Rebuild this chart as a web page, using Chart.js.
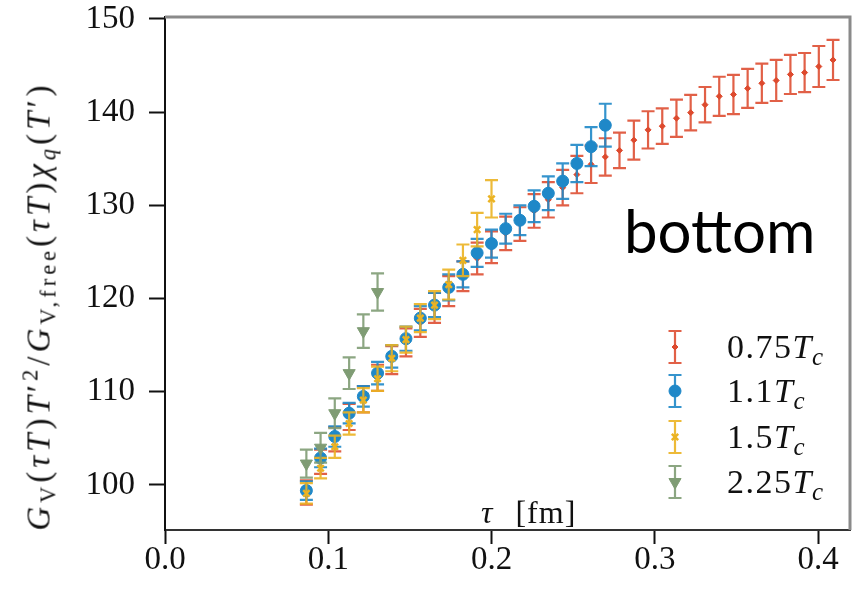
<!DOCTYPE html>
<html lang="en">
<head>
  <meta charset="UTF-8" />
  <title>G_V ratio vs tau</title>
  <script src="https://cdn.jsdelivr.net/npm/chart.js"></script>
  <style>
    body {
      margin: 0;
      background: #fff;
    }

    #wrap {
      position: relative;
      width: 864px;
      height: 590px;
      overflow: hidden;
    }

    canvas {
      position: absolute;
      left: 0;
      top: 0;
    }

    .serif {
      position: absolute;
      font-family: 'Liberation Serif', 'DejaVu Serif', serif;
      color: #111;
      white-space: nowrap;
    }

    .serif i { font-style: italic; }
    .serif sub { font-size: 0.68em; vertical-align: -0.28em; line-height: 0; }
    .serif sup { font-size: 0.68em; vertical-align: 0.55em; line-height: 0; }

    #yTitle {
      left: 39px;
      top: 306px;
      font-size: 33px;
      letter-spacing: 4px;
      transform: translate(-50%, -50%) rotate(-90deg);
    }

    #xTitle {
      left: 481px;
      top: 494px;
      font-size: 32px;
      letter-spacing: 1px;
    }

    #xTitle span { margin-left: 22px; }

    #note {
      position: absolute;
      left: 624px;
      top: 194px;
      font-family: Lato, 'Open Sans', sans-serif;
      font-size: 60px;
      color: #000;
    }
  </style>
</head>
<body>
  <div id="wrap">
    <canvas id="chart" width="864" height="590"></canvas>
    <div class="serif" id="yTitle"><i>G</i><sub>V</sub>(<i>τT</i>)<i>T</i>′<sup>2</sup>/<i>G</i><sub>V,free</sub>(<i>τT</i>)<i>χ<sub>q</sub></i>(<i>T</i>′)</div>
    <div class="serif" id="xTitle"><i>τ</i><span>[fm]</span></div>
    <div id="note">bottom</div>
  </div>

  <script>
    // tick labels
    const xTicks = [0.0, 0.1, 0.2, 0.3, 0.4];
    const yTicks = [100, 110, 120, 130, 140, 150];

    // legend labels (T_c is appended when drawn)
    const seriesLabels = ['0.75', '1.1', '1.5', '2.25'];

    // 0.75 Tc
    const tauRed = [0.0866, 0.0953, 0.1040, 0.1128, 0.1215, 0.1302, 0.1389, 0.1476, 0.1564, 0.1651,
                    0.1738, 0.1825, 0.1912, 0.2000, 0.2087, 0.2174, 0.2261, 0.2348, 0.2436, 0.2523,
                    0.2610, 0.2697, 0.2784, 0.2872, 0.2959, 0.3046, 0.3133, 0.3220, 0.3308, 0.3395,
                    0.3482, 0.3569, 0.3656, 0.3744, 0.3831, 0.3918, 0.4005, 0.4092];
    const valRed = [99.2, 102.5, 104.9, 107.3, 109.2, 111.5, 113.4, 115.3, 117.4, 119.0,
                    120.8, 122.4, 124.3, 125.5, 127.0, 128.0, 129.4, 130.6, 131.9, 133.3,
                    134.4, 135.2, 135.9, 137.0, 138.1, 138.5, 139.35, 139.95, 140.8, 141.7,
                    141.9, 142.55, 143.1, 143.4, 144.05, 144.25, 144.9, 145.6];
    const errRed = [1.3, 1.3, 1.3, 1.4, 1.4, 1.4, 1.5, 1.5, 1.5, 1.6,
                    1.6, 1.6, 1.7, 1.7, 1.8, 1.8, 1.8, 1.9, 1.9, 2.0,
                    2.0, 2.0, 1.9, 2.1, 2.0, 1.9, 2.0, 1.9, 1.9, 2.1,
                    2.1, 2.1, 2.1, 2.2, 2.1, 2.1, 2.2, 2.15];

    // 1.1 Tc
    const tauBlue = [0.0866, 0.0953, 0.1040, 0.1128, 0.1215, 0.1302, 0.1389, 0.1476, 0.1564, 0.1651,
                     0.1738, 0.1825, 0.1912, 0.2000, 0.2087, 0.2174, 0.2261, 0.2348, 0.2436, 0.2523,
                     0.2610, 0.2697];
    const valBlue = [99.4, 102.9, 105.2, 107.7, 109.5, 112.0, 113.8, 115.7, 117.9, 119.3,
                     121.2, 122.6, 124.9, 125.9, 127.5, 128.4, 129.9, 131.3, 132.6, 134.5,
                     136.3, 138.6];
    const errBlue = [1.0, 1.0, 1.1, 1.1, 1.1, 1.2, 1.2, 1.3, 1.3, 1.3,
                     1.4, 1.4, 1.5, 1.5, 1.6, 1.6, 1.7, 1.8, 1.9, 2.0,
                     2.1, 2.3];

    // 1.5 Tc
    const tauYellow = [0.0866, 0.0953, 0.1040, 0.1128, 0.1215, 0.1302, 0.1389, 0.1476, 0.1564, 0.1651,
                       0.1738, 0.1825, 0.1912, 0.2000];
    const valYellow = [99.1, 101.8, 104.1, 106.6, 109.1, 111.4, 113.6, 115.6, 117.9, 119.3,
                       121.5, 124.1, 127.4, 130.7];
    const errYellow = [1.1, 1.1, 1.2, 1.2, 1.3, 1.3, 1.4, 1.4, 1.5, 1.5,
                       1.6, 1.7, 1.8, 2.0];

    // 2.25 Tc
    const tauGreen = [0.0866, 0.0953, 0.1040, 0.1128, 0.1215, 0.1302];
    const valGreen = [102.3, 104.0, 107.7, 112.0, 116.5, 120.7];
    const errGreen = [1.5, 1.6, 1.6, 1.7, 1.8, 2.0];

    const colRed = '#dd4a2e';
    const colBlue = '#1f88c8';
    const colYellow = '#ebb322';
    const colGreen = '#7f9c74';

    const pts = (xs, ys, es) => xs.map((x, i) => ({ x: x, y: ys[i], err: es[i] }));

    const serif = "'Liberation Serif', 'DejaVu Serif', serif";

    // vertical error bars, drawn just before each dataset's markers
    const errorBars = {
      id: 'errorBars',
      beforeDatasetDraw(chart, args) {
        const ds = chart.data.datasets[args.index];
        const y = chart.scales.y;
        const ctx = chart.ctx;
        ctx.save();
        ctx.strokeStyle = ds.barColor;
        ctx.lineWidth = 2.2;
        args.meta.data.forEach((pt, i) => {
          const d = ds.data[i];
          const top = y.getPixelForValue(d.y + d.err);
          const bot = y.getPixelForValue(d.y - d.err);
          ctx.beginPath();
          ctx.moveTo(pt.x, top); ctx.lineTo(pt.x, bot);
          ctx.moveTo(pt.x - 6.5, top); ctx.lineTo(pt.x + 6.5, top);
          ctx.moveTo(pt.x - 6.5, bot); ctx.lineTo(pt.x + 6.5, bot);
          ctx.stroke();
        });
        ctx.restore();
      }
    };

    // grey top/right frame + legend with error-bar icons
    const frameAndLegend = {
      id: 'frameAndLegend',
      afterDraw(chart) {
        const ctx = chart.ctx;
        const a = chart.chartArea;
        ctx.save();
        ctx.strokeStyle = '#8a8a8a';
        ctx.lineWidth = 3;
        ctx.beginPath();
        ctx.moveTo(a.left, a.top);
        ctx.lineTo(a.right, a.top);
        ctx.lineTo(a.right, a.bottom);
        ctx.stroke();

        const rows = [347, 391, 437, 482];
        rows.forEach((cy, k) => {
          const ds = chart.data.datasets[k];
          const cx = 675;
          ctx.strokeStyle = ds.barColor;
          ctx.lineWidth = 2.2;
          ctx.beginPath();
          ctx.moveTo(cx, cy - 16); ctx.lineTo(cx, cy + 16);
          ctx.moveTo(cx - 6.5, cy - 16); ctx.lineTo(cx + 6.5, cy - 16);
          ctx.moveTo(cx - 6.5, cy + 16); ctx.lineTo(cx + 6.5, cy + 16);
          ctx.stroke();
          if (Chart.helpers && Chart.helpers.drawPoint) {
            ctx.fillStyle = ds.pointBackgroundColor;
            ctx.strokeStyle = ds.pointBorderColor;
            ctx.lineWidth = ds.pointBorderWidth;
            Chart.helpers.drawPoint(ctx, {
              pointStyle: ds.pointStyle,
              radius: ds.pointRadius,
              rotation: ds.pointRotation || 0,
              borderWidth: ds.pointBorderWidth
            }, cx, cy);
          }
          // label: number + italic T with subscript c
          const base = cy + 11;
          let tx = 727;
          ctx.fillStyle = '#111';
          ctx.textBaseline = 'alphabetic';
          ctx.textAlign = 'left';
          ctx.letterSpacing = '1.5px';
          ctx.font = '34px ' + serif;
          ctx.fillText(seriesLabels[k], tx, base);
          tx += ctx.measureText(seriesLabels[k]).width;
          ctx.font = 'italic 34px ' + serif;
          ctx.fillText('T', tx, base);
          tx += ctx.measureText('T').width - 1;
          ctx.font = 'italic 25px ' + serif;
          ctx.fillText('c', tx, base + 7);
        });
        ctx.restore();
      }
    };

    new Chart(document.getElementById('chart').getContext('2d'), {
      type: 'scatter',
      data: {
        datasets: [
          {
            label: seriesLabels[0],
            data: pts(tauRed, valRed, errRed),
            barColor: 'rgba(221,74,46,0.88)',
            pointStyle: 'rectRot',
            pointRadius: 3,
            pointBackgroundColor: colRed,
            pointBorderColor: colRed,
            pointBorderWidth: 1,
            order: 4
          },
          {
            label: seriesLabels[1],
            data: pts(tauBlue, valBlue, errBlue),
            barColor: 'rgba(31,136,200,0.9)',
            pointStyle: 'circle',
            pointRadius: 6,
            pointBackgroundColor: colBlue,
            pointBorderColor: colBlue,
            pointBorderWidth: 1,
            order: 3
          },
          {
            label: seriesLabels[2],
            data: pts(tauYellow, valYellow, errYellow),
            barColor: 'rgba(235,179,34,0.9)',
            pointStyle: 'crossRot',
            pointRadius: 4.5,
            pointBackgroundColor: colYellow,
            pointBorderColor: colYellow,
            pointBorderWidth: 2.5,
            order: 2
          },
          {
            label: seriesLabels[3],
            data: pts(tauGreen, valGreen, errGreen),
            barColor: 'rgba(127,156,116,0.9)',
            pointStyle: 'triangle',
            pointRotation: 180,
            pointRadius: 7,
            pointBackgroundColor: colGreen,
            pointBorderColor: colGreen,
            pointBorderWidth: 1,
            order: 1
          }
        ]
      },
      options: {
        responsive: false,
        animation: false,
        layout: { padding: { top: 17, right: 14, left: 0, bottom: 0 } },
        plugins: {
          legend: { display: false },
          tooltip: { enabled: false }
        },
        scales: {
          x: {
            type: 'linear',
            min: 0,
            max: 0.4196,
            afterBuildTicks: s => { s.ticks = xTicks.map(v => ({ value: v })); },
            afterFit: s => { s.height = 60; s.paddingLeft = 0; s.paddingRight = 0; },
            grid: { drawOnChartArea: false, drawTicks: true, tickLength: 14, tickWidth: 2, tickColor: '#111' },
            border: { display: true, color: '#333', width: 2 },
            ticks: {
              padding: -3,
              color: '#111',
              font: { family: serif, size: 33 },
              callback: v => v.toFixed(1)
            }
          },
          y: {
            type: 'linear',
            min: 95.17,
            max: 150.21,
            afterBuildTicks: s => { s.ticks = yTicks.map(v => ({ value: v })); },
            afterFit: s => { s.width = 165; s.paddingTop = 0; s.paddingBottom = 0; },
            grid: { drawOnChartArea: false, drawTicks: true, tickLength: 16, tickWidth: 2, tickColor: '#111' },
            border: { display: true, color: '#111', width: 2 },
            ticks: {
              padding: 14,
              color: '#111',
              font: { family: serif, size: 33 },
              callback: v => String(v)
            }
          }
        }
      },
      plugins: [errorBars, frameAndLegend]
    });
  </script>
</body>
</html>
